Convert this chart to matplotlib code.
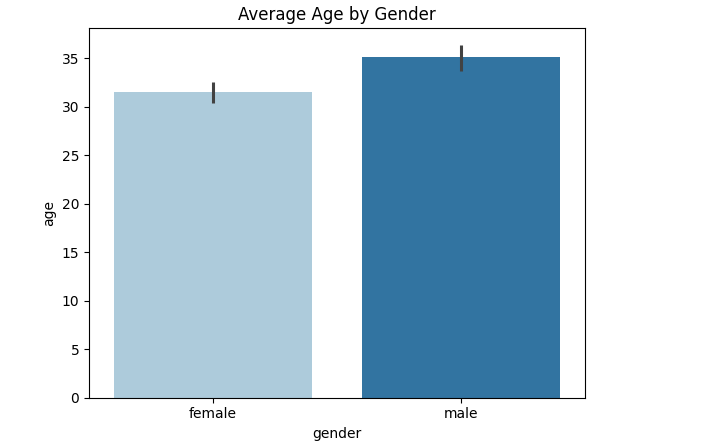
import matplotlib
matplotlib.use("Agg")
import matplotlib.pyplot as plt

categories = ["female", "male"]
mean_age = [31.47, 35.08]
ci_low = [30.4, 33.7]
ci_high = [32.5, 36.3]
colors = ["#adcbdb", "#3274a1"]

fig = plt.figure(figsize=(7.06, 4.47), dpi=100)
ax = fig.add_axes([89/706, 49.5/447, 496/706, 369.5/447])

x = range(len(categories))
ax.bar(x, mean_age, width=0.8, color=colors)
for xi, lo, hi in zip(x, ci_low, ci_high):
    ax.plot([xi, xi], [lo, hi], color="#424242", linewidth=2.2, solid_capstyle="butt")

ax.set_xticks(list(x))
ax.set_xticklabels(categories)
ax.set_xlim(-0.5, 1.5)
ax.set_ylim(0, 38.1)
ax.set_yticks([0, 5, 10, 15, 20, 25, 30, 35])
ax.set_xlabel("gender")
ax.set_ylabel("age")
ax.set_title("Average Age by Gender")

fig.savefig("out.png", dpi=100)
